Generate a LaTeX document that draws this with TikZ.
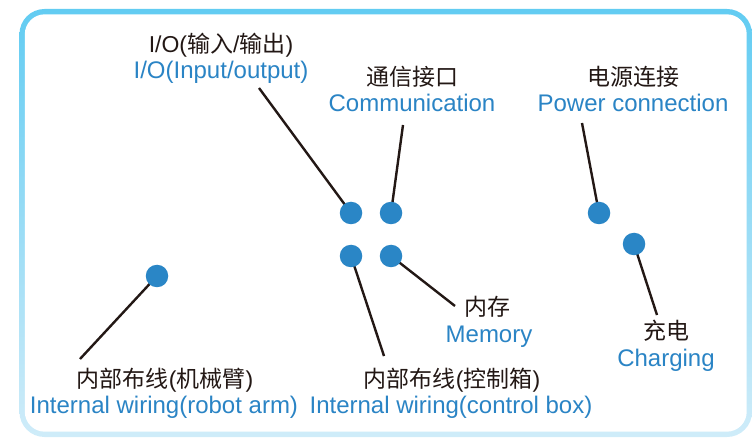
\documentclass[tikz,border=0pt]{standalone}
\usepackage{fontspec}
\setmainfont{Liberation Sans}
\newfontfamily\cjk{Noto Sans CJK SC}
\definecolor{dotblue}{HTML}{2A86C6}
\definecolor{txtblue}{HTML}{2A84C5}
\definecolor{ink}{HTML}{231815}
\definecolor{bordertop}{HTML}{62CCF2}
\definecolor{borderbot}{HTML}{CFECF9}
\tikzset{
  pin/.style={circle,fill=dotblue,minimum size=22.5pt,inner sep=0pt},
  cn/.style={anchor=base,text=ink,inner sep=0pt,font=\fontsize{23}{26}\selectfont},
  en/.style={anchor=base,text=txtblue,inner sep=0pt,font=\fontsize{24}{26}\selectfont},
  conn/.style={draw=ink,line width=2.4pt}
}
\begin{document}
\begin{tikzpicture}[x=1pt,y=-1pt]
\useasboundingbox (0,0) rectangle (752,438);
% frame
\shade[top color=bordertop,bottom color=borderbot,rounded corners=25pt] (19.5,9) rectangle (752,437);
\fill[white,rounded corners=20pt] (24.8,14.3) rectangle (746.7,431.7);

% coordinates (free ends of connectors)
\coordinate (ioend) at (259,88);
\coordinate (comend) at (403,125);
\coordinate (powend) at (582,123);
\coordinate (chgend) at (657,315);
\coordinate (memend) at (455,306);
\coordinate (ctlend) at (384,356);
\coordinate (armend) at (80,359);

% connectors
\draw[conn] (351,213) coordinate (iop) -- (ioend);
\draw[conn] (391,213) coordinate (comp) -- (comend);
\draw[conn] (599,213) coordinate (powp) -- (powend);
\draw[conn] (634,244) coordinate (chgp) -- (chgend);
\draw[conn] (391,256) coordinate (memp) -- (memend);
\draw[conn] (351,256) coordinate (ctlp) -- (ctlend);
\draw[conn] (157,276) coordinate (armp) -- (armend);

% dots
\node[pin] (io) at (iop) {};
\node[pin] (com) at (comp) {};
\node[pin] (pow) at (powp) {};
\node[pin] (chg) at (chgp) {};
\node[pin] (mem) at (memp) {};
\node[pin] (ctl) at (ctlp) {};
\node[pin] (arm) at (armp) {};

% labels
\node[cn] (iocn) at (221,53) {I/O({\cjk 输入}/{\cjk 输出})};
\node[en] (ioen) at (221,79) {I/O(Input/output)};
\node[cn] (comcn) at (412,86) {\cjk 通信接口};
\node[en] (comen) at (412,112) {Communication};
\node[cn] (powcn) at (633,86) {\cjk 电源连接};
\node[en] (powen) at (633,112) {Power connection};
\node[cn] (memcn) at (487,316) {\cjk 内存};
\node[en] (memen) at (489,342) {Memory};
\node[cn] (chgcn) at (666,339) {\cjk 充电};
\node[en] (chgen) at (666,366) {Charging};
\node[cn] (armcn) at (165,387) {{\cjk 内部布线}({\cjk 机械臂})};
\node[en] (armen) at (164,413) {Internal wiring(robot arm)};
\node[cn] (ctlcn) at (452,387) {{\cjk 内部布线}({\cjk 控制箱})};
\node[en] (ctlen) at (451,413) {Internal wiring(control box)};
\end{tikzpicture}
\end{document}
